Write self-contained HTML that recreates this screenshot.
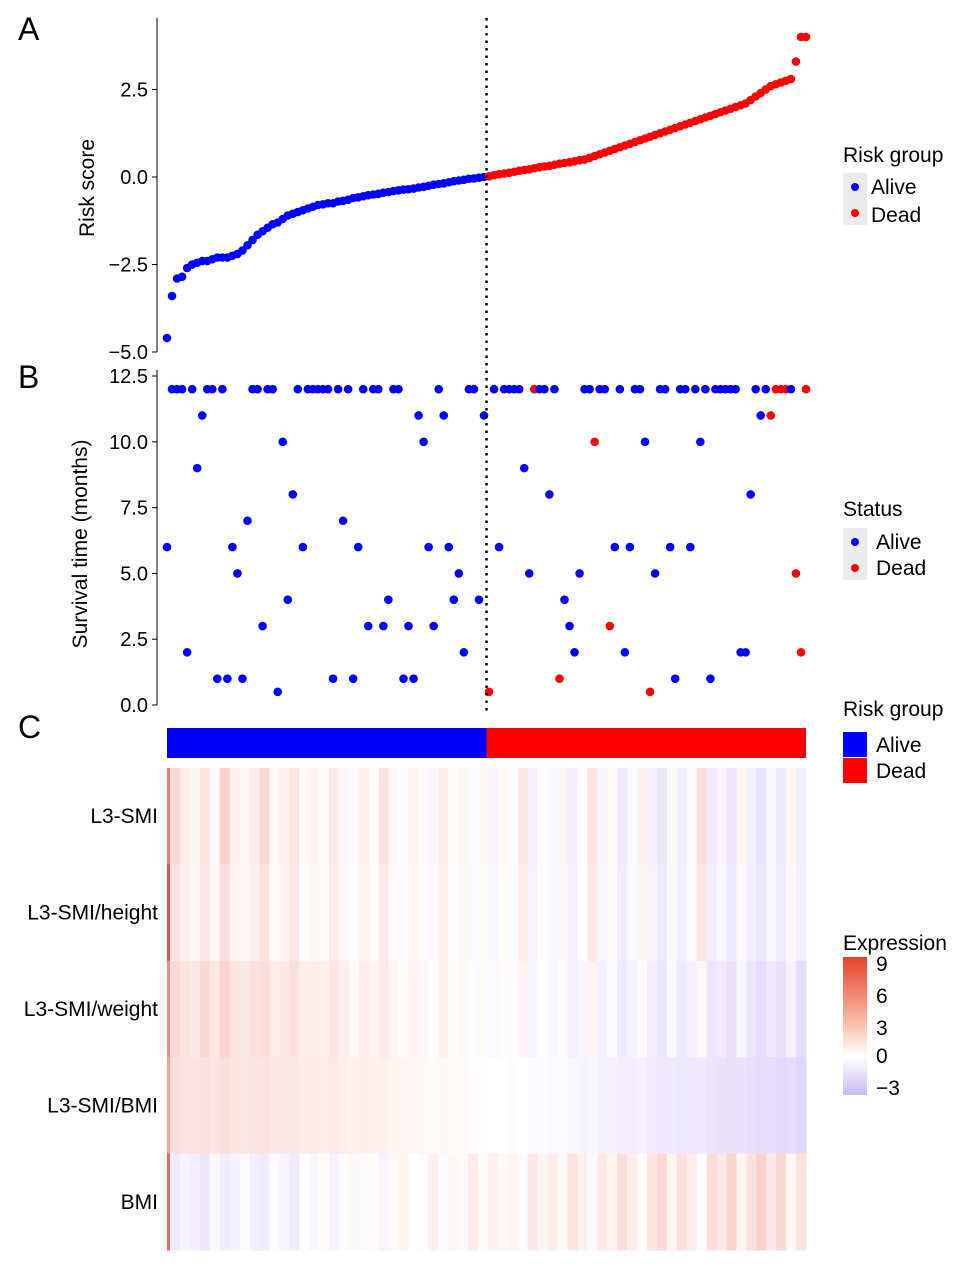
<!DOCTYPE html>
<html><head><meta charset="utf-8"><style>
body{margin:0;background:#fff;}
svg text{font-family:"Liberation Sans",Arial,sans-serif;fill:#000;}
</style></head><body>
<svg id="fig" width="969" height="1264" viewBox="0 0 969 1264" xmlns="http://www.w3.org/2000/svg">
<text x="18" y="40" font-size="32">A</text>
<text x="18" y="388" font-size="32">B</text>
<text x="18" y="738" font-size="32">C</text>
<g id="gA"></g>
<g id="gB"></g>
<g id="gC"></g>
<g id="legends">
 <text x="843" y="162" font-size="21">Risk group</text>
 <rect x="843" y="173" width="24" height="52" fill="#ebebeb"/>
 <circle cx="855" cy="187" r="4" fill="#0000ff"/>
 <circle cx="855" cy="213" r="4" fill="#ff0000"/>
 <text x="871" y="194" font-size="21">Alive</text>
 <text x="871" y="222" font-size="21">Dead</text>
 <text x="843" y="516" font-size="21">Status</text>
 <rect x="843" y="528" width="24" height="52" fill="#ebebeb"/>
 <circle cx="855" cy="542" r="4" fill="#0000ff"/>
 <circle cx="855" cy="568" r="4" fill="#ff0000"/>
 <text x="876" y="549" font-size="21">Alive</text>
 <text x="876" y="575" font-size="21">Dead</text>
 <text x="843" y="716" font-size="21">Risk group</text>
 <rect x="843" y="732" width="24" height="25" fill="#0000ff"/>
 <rect x="843" y="758" width="24" height="25" fill="#ff0000"/>
 <text x="876" y="752" font-size="21">Alive</text>
 <text x="876" y="778" font-size="21">Dead</text>
 <text x="843" y="950" font-size="21">Expression</text>
 <defs><linearGradient id="eg" x1="0" y1="0" x2="0" y2="1">
  <stop offset="0" stop-color="#e8412b"/><stop offset="0.5" stop-color="#f9c4ae"/><stop offset="0.72" stop-color="#ffffff"/><stop offset="1" stop-color="#c9b9f4"/></linearGradient></defs>
 <rect x="843" y="957" width="24" height="138" fill="url(#eg)"/>
 <text x="876" y="971" font-size="21">9</text>
 <text x="876" y="1003" font-size="21">6</text>
 <text x="876" y="1035" font-size="21">3</text>
 <text x="876" y="1063" font-size="21">0</text>
 <text x="876" y="1095" font-size="21">−3</text>
</g>
</svg>
<script>
const riskScores=[-4.6,-3.4,-2.9,-2.85,-2.6,-2.5,-2.45,-2.4,-2.4,-2.35,-2.3,-2.3,-2.3,-2.25,-2.2,-2.1,-1.95,-1.8,-1.65,-1.55,-1.45,-1.35,-1.3,-1.2,-1.1,-1.05,-1.0,-0.95,-0.9,-0.85,-0.8,-0.78,-0.75,-0.75,-0.7,-0.68,-0.65,-0.6,-0.58,-0.55,-0.52,-0.5,-0.48,-0.45,-0.43,-0.4,-0.38,-0.36,-0.35,-0.33,-0.3,-0.28,-0.25,-0.22,-0.2,-0.18,-0.15,-0.12,-0.1,-0.08,-0.05,-0.04,-0.02,0.0,
0.02,0.05,0.08,0.1,0.12,0.15,0.18,0.2,0.22,0.25,0.28,0.3,0.32,0.35,0.38,0.4,0.42,0.45,0.48,0.5,0.55,0.6,0.65,0.7,0.75,0.8,0.85,0.9,0.95,1.0,1.05,1.1,1.15,1.2,1.25,1.3,1.35,1.4,1.45,1.5,1.55,1.6,1.65,1.7,1.75,1.8,1.85,1.9,1.95,2.0,2.05,2.1,2.2,2.3,2.4,2.5,2.6,2.65,2.7,2.75,2.8,3.3,4.0,4.0];
const riskGroup=riskScores.map((v,i)=>i<64?0:1);
const survival=[6,12,12,12,2,12,9,11,12,12,1,12,1,6,5,1,7,12,12,3,12,12,0.5,10,4,8,12,6,12,12,12,12,12,1,12,7,12,1,6,12,3,12,12,3,4,12,12,1,3,1,11,10,6,3,12,11,6,4,5,2,12,12,4,11,
0.5,12,6,12,12,12,12,9,5,12,12,12,8,12,1,4,3,2,5,12,12,10,12,12,3,6,12,2,6,12,12,10,0.5,5,12,12,6,1,12,12,6,12,10,12,1,12,12,12,12,12,2,2,8,12,11,12,11,12,12,12,12,5,2,12];
const status=[0,0,0,0,0,0,0,0,0,0,0,0,0,0,0,0,0,0,0,0,0,0,0,0,0,0,0,0,0,0,0,0,0,0,0,0,0,0,0,0,0,0,0,0,0,0,0,0,0,0,0,0,0,0,0,0,0,0,0,0,0,0,0,0,
1,0,0,0,0,0,0,0,0,1,0,0,0,0,1,0,0,0,0,0,0,1,0,0,1,0,0,0,0,0,0,0,1,0,0,0,0,0,0,0,0,0,0,0,0,0,0,0,0,0,0,0,0,0,0,0,1,1,1,1,0,1,1,1];
const riskTicks=[2.5,0,-2.5,-5];
const riskTickLabels=["2.5","0.0","−2.5","−5.0"];
const survTicks=[12.5,10,7.5,5,2.5,0];
const survTickLabels=["12.5","10.0","7.5","5.0","2.5","0.0"];
const rowNames=["L3-SMI","L3-SMI/height","L3-SMI/weight","L3-SMI/BMI","BMI"];
const firstPatient=[7,9,6,5,8];
const rowL3SMI=[2,1,0.5,1.5,0.3,2.5,0.8,0.5,1,2,0.4,0.8,1.5,0.3,0.6,0.2,1.2,0.5,-0.3,0.8,0.2,1.5,0.4,-0.2,0.6,0.3,-0.4,1,0.2,0.5,-0.3,0.4,-0.5,0.3,-0.2,1.2,-0.6,0.2,-0.4,0.5,-0.8,-0.2,1.5,-0.5,0.3,-1,-0.3,0.8,-0.6,-1.2,0.4,-0.8,-0.3,1.8,-1,-0.5,-1.2,0.5,-0.8,-1.4,-0.4,-1,0.6,-0.8];
const rowHeight=[1.5,0.8,0.4,1.2,0.3,1.8,0.6,0.4,0.8,1.5,0.3,0.6,1.2,0.2,0.5,0.2,1,0.4,-0.2,0.6,0.2,1.2,0.3,-0.2,0.5,0.2,-0.3,0.8,0.1,0.4,-0.3,0.3,-0.4,0.2,-0.2,1,-0.5,0.1,-0.4,0.4,-0.7,-0.2,1.2,-0.4,0.2,-0.9,-0.3,0.6,-0.5,-1,0.3,-0.7,-0.3,1.4,-0.9,-0.4,-1,0.4,-0.7,-1.2,-0.4,-0.9,0.4,-0.7];
const rowWeight=[2,1.5,1.2,2,1.3,2.2,1.4,1.2,1.6,1.8,1,1.2,1.6,0.9,1,0.8,1.3,0.8,0.4,1,0.6,1.2,0.6,0.2,0.6,0.4,0,0.8,0.2,0.4,-0.2,0.3,-0.3,0.2,-0.2,0.6,-0.5,0,-0.4,0.2,-0.7,-0.4,0.6,-0.6,-0.2,-1,-0.6,0.2,-0.8,-1.2,-0.3,-1,-0.7,0.4,-1.2,-1,-1.4,-0.4,-1.2,-1.6,-1,-1.4,-0.6,-1.6];
const rowBMIratio=[1.6,1.5,1.5,1.6,1.4,1.7,1.4,1.3,1.4,1.5,1.2,1.2,1.3,1.1,1.1,1,1.1,0.9,0.8,0.9,0.7,0.8,0.6,0.5,0.5,0.4,0.3,0.4,0.2,0.2,0.1,0.1,0,0,-0.1,0,-0.2,-0.2,-0.3,-0.3,-0.4,-0.5,-0.4,-0.6,-0.6,-0.8,-0.8,-0.7,-0.9,-1,-1,-1.1,-1.1,-1,-1.2,-1.3,-1.4,-1.3,-1.5,-1.6,-1.6,-1.7,-1.6,-1.9];
const rowBMI=[-1,-0.6,-0.8,-1.2,-0.4,-0.9,-0.6,-0.3,-0.8,-1,-0.2,-0.5,-0.9,-0.1,-0.4,0.2,-0.6,-0.2,0.4,-0.3,0.2,-0.5,0.3,0.6,0,0.2,0.8,-0.2,0.5,0.3,1,0.2,0.8,0.4,0.6,-0.2,1.2,0.5,0.9,0.3,1.5,0.8,-0.3,1.2,0.6,1.8,0.9,0.2,1.4,2,0.6,1.6,1,-0.2,1.8,1.2,2.2,0.6,1.6,2.4,1.2,2,0.4,1.5];
const rows=[rowL3SMI,rowHeight,rowWeight,rowBMIratio,rowBMI];

const NS="http://www.w3.org/2000/svg";
function mk(tag,attrs,parent){const e=document.createElementNS(NS,tag);for(const k in attrs)e.setAttribute(k,attrs[k]);parent.appendChild(e);return e;}
const N=riskScores.length;
const x0=167,x1=806;
const xP=i=>x0+i*(x1-x0)/(N-1);
const yA=v=>177-v*35;
const yB=v=>705-v*(705-376)/12.5;
const gA=document.getElementById('gA'),gB=document.getElementById('gB'),gC=document.getElementById('gC');

let ax=mk('line',{x1:157,x2:157,y1:18,y2:352,stroke:'#000','stroke-width':1},gA);


riskTicks.forEach((t,k)=>{
 const tk=mk('line',{x1:152,x2:157,y1:yA(t),y2:yA(t),stroke:'#000'},gA);
 
 
 const tl=mk('text',{x:148,y:yA(t)+7,'font-size':20,'text-anchor':'end'},gA);tl.textContent=riskTickLabels[k];
 
 
});
let ta=mk('text',{x:0,y:0,'font-size':21,'text-anchor':'middle',transform:'translate(94,188) rotate(-90)'},gA);ta.textContent='Risk score';


riskScores.forEach((v,i)=>{
 const c=mk('circle',{cx:xP(i),cy:yA(v),r:4.3,fill:riskGroup[i]?'#ff0000':'#0000ff'},gA);
 
 
});
let bx=mk('line',{x1:157,x2:157,y1:370,y2:705,stroke:'#000'},gB);


survTicks.forEach((t,k)=>{
 const tk=mk('line',{x1:152,x2:157,y1:yB(t),y2:yB(t),stroke:'#000'},gB);
 
 
 const tl=mk('text',{x:148,y:yB(t)+7,'font-size':20,'text-anchor':'end'},gB);tl.textContent=survTickLabels[k];
 
 
});
let tb=mk('text',{x:0,y:0,'font-size':21,'text-anchor':'middle',transform:'translate(87,544) rotate(-90)'},gB);tb.textContent='Survival time (months)';


survival.forEach((v,i)=>{
 const c=mk('circle',{cx:xP(i),cy:yB(v),r:4.3,fill:status[i]?'#ff0000':'#0000ff'},gB);
 
 
});
const split=(xP(63)+xP(64))/2;
let dv=mk('line',{x1:split,x2:split,y1:18,y2:712,stroke:'#000','stroke-width':2.5,'stroke-dasharray':'2.5,5'},document.getElementById('fig'));


let rb=mk('rect',{x:x0,y:728,width:split-x0,height:30,fill:'#0000ff'},gC);


let rr=mk('rect',{x:split,y:728,width:x1-split,height:30,fill:'#ff0000'},gC);


function col(v){
 if(v>=0){const s=Math.min(1,v/9*0.9);
  return `rgb(${Math.round(255-(255-232)*s)},${Math.round(255-(255-65)*s)},${Math.round(255-(255-43)*s)})`;}
 const t=Math.min(-v/3,1)*0.75;return `rgb(${Math.round(255-(255-190)*t)},${Math.round(255-(255-170)*t)},${Math.round(255-(255-245)*t)})`;
}
const hy0=768,hy1=1250,rh=(hy1-hy0)/5;
const hx0=170;
rows.forEach((r,ri)=>{
 const y=hy0+ri*rh;
 const cw=(x1-hx0)/r.length;
 r.forEach((v,ci)=>{
  const c=mk('rect',{x:hx0+ci*cw,y:y,width:cw+0.6,height:rh+0.5,fill:col(v)},gC);
  
  
 });
 const f=mk('rect',{x:x0,y:y,width:3,height:rh+0.5,fill:col(firstPatient[ri])},gC);
 
 
 const tl=mk('text',{x:158,y:y+rh/2+7,'font-size':21,'text-anchor':'end'},gC);tl.textContent=rowNames[ri];
 
 
});
</script>
</body></html>
